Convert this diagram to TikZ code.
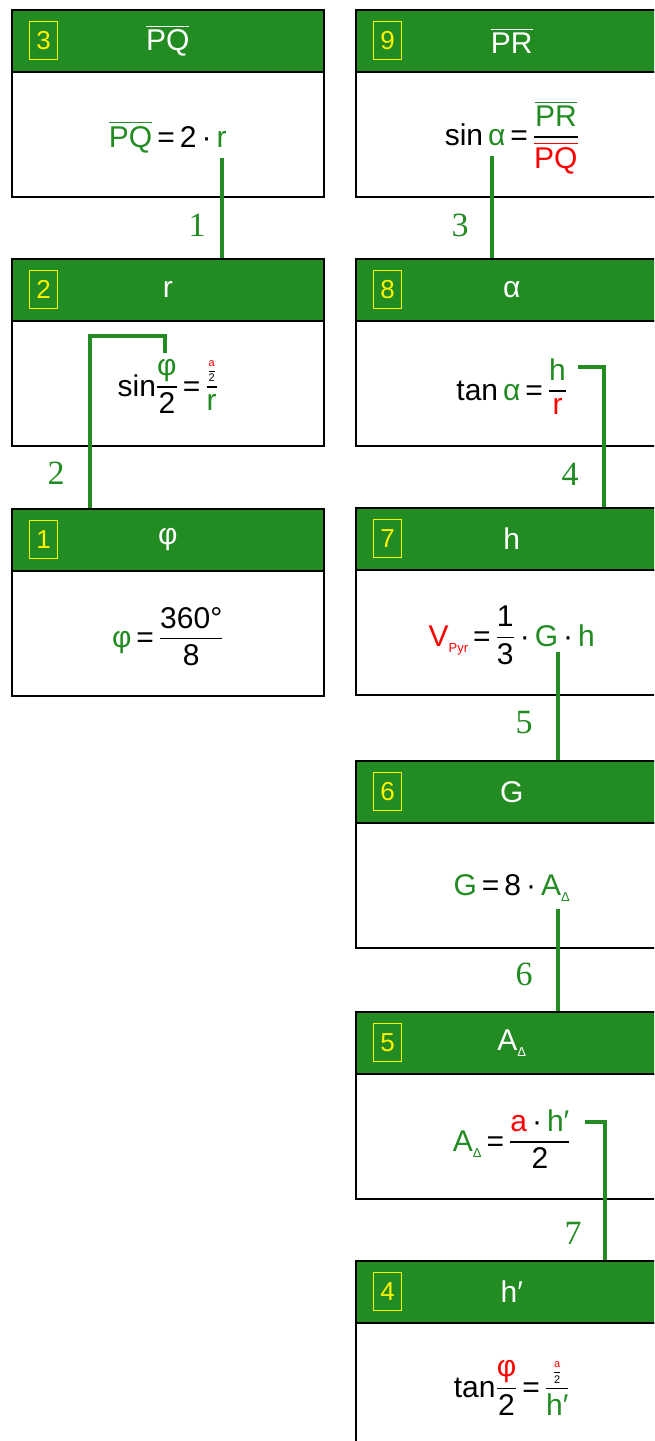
\documentclass[tikz,border=0pt]{standalone}
\usepackage{amsmath}
\usepackage{fontspec}
\setmainfont{Liberation Sans}
\newfontfamily\serifnum{Liberation Serif}
\definecolor{fg}{HTML}{228B22}
\newcommand\g[1]{\textcolor{fg}{#1}}
\newcommand\rd[1]{\textcolor{red}{#1}}
\newcommand\ov[1]{$\overline{\mbox{#1}}$}
\newcommand\fr[2]{\raisebox{3pt}{$\genfrac{}{}{1.6pt}{0}{\mbox{#1}}{\mbox{#2}}$}}
\newcommand\sfr[2]{\raisebox{1pt}{\fontsize{11}{11}\selectfont$\genfrac{}{}{0.8pt}{0}{\mbox{#1}}{\mbox{#2}}$}}
\newcommand\subs[1]{\raisebox{-6pt}{\fontsize{13}{13}\selectfont #1}}
\newcommand\ap{′}
\tikzset{
 hdr/.style={draw=black, line width=1.5pt, fill=fg, minimum width=312pt, minimum height=62pt, inner sep=0pt, anchor=north west},
 bdy/.style={draw=black, line width=1.5pt, fill=white, minimum width=312pt, minimum height=125pt, inner sep=0pt, anchor=north west},
 numbox/.style={draw=yellow, line width=1pt, text=yellow, inner sep=0pt, font=\fontsize{26}{26}\selectfont, anchor=west, minimum width=28pt, minimum height=38pt},
 ttl/.style={text=white, font=\fontsize{30}{30}\selectfont},
 frm/.style={font=\fontsize{30}{36}\selectfont},
 link/.style={draw=fg, line width=4.5pt},
 lbl/.style={text=fg, font=\serifnum\fontsize{34}{34}\selectfont},
}
\newcommand\mkbox[6]{%
 \node[bdy] (#1b) at (#2,#3+62) {};
 \node[hdr] (#1h) at (#2,#3) {};
 \node[numbox] (#1n) at ([xshift=18pt]#1h.west) {#4};
 \node[ttl] (#1t) at (#1h.center) {#5};
 \node[frm] (#1f) at ([yshift=-3pt]#1b.center) {#6};
}
\begin{document}
\begin{tikzpicture}[x=1pt,y=-1pt]
\useasboundingbox (0,0) rectangle (654,1441);
\clip (0,0) rectangle (654,1441);
\fill[white] (0,0) rectangle (654,1441);
% left column
\mkbox{b3}{11}{9}{3}{\ov{PQ}}{{\color{fg}\ov{PQ}}\,=\,2\,·\,\g{r}}
\mkbox{b2}{11}{258}{2}{r}{sin\fr{\g{φ}}{2}\,=\,\fr{\sfr{\rd{a}}{2}}{\g{r}}}
\mkbox{b1}{11}{508}{1}{φ}{\g{φ}\,=\,\fr{360°}{8}}
% right column
\mkbox{b9}{355}{9}{9}{\ov{PR}}{sin\,\g{α}\,=\,\fr{\color{fg}\ov{PR}}{\color{red}\ov{PQ}}}
\mkbox{b8}{355}{258}{8}{α}{tan\,\g{α}\,=\,\fr{\g{h}}{\rd{r}}}
\mkbox{b7}{355}{507}{7}{h}{\rd{V}\subs{\rd{Pyr}}\,=\,\fr{1}{3}\,·\,\g{G}\,·\,\g{h}}
\mkbox{b6}{355}{760}{6}{G}{\g{G}\,=\,8\,·\,\g{A}\subs{\g{Δ}}}
\mkbox{b5}{355}{1011}{5}{A\subs{Δ}}{\g{A}\subs{\g{Δ}}\,=\,\fr{\rd{a}\,·\,\g{h\ap}}{2}}
\mkbox{b4}{355}{1260}{4}{h\ap}{tan\fr{\rd{φ}}{2}\,=\,\fr{\sfr{\rd{a}}{2}}{\g{h\ap}}}
% connectors
\coordinate (s1) at (222,158);
\draw[link] (s1) -- (s1 |- b2h.north);
\coordinate (s2) at (165,353);
\coordinate (k2) at (90,336);
\draw[link] (s2) |- (k2) -- (k2 |- b1h.north);
\coordinate (s3) at (492,156);
\draw[link] (s3) -- (s3 |- b8h.north);
\coordinate (s4) at (578,367);
\coordinate (k4) at (604,367);
\draw[link] (s4) -- (k4) -- (k4 |- b7h.north);
\coordinate (s5) at (558,652);
\draw[link] (s5) -- (s5 |- b6h.north);
\coordinate (s6) at (558,909);
\draw[link] (s6) -- (s6 |- b5h.north);
\coordinate (s7) at (585,1122);
\coordinate (k7) at (605,1122);
\draw[link] (s7) -- (k7) -- (k7 |- b4h.north);
% labels
\node[lbl] (l1) at (197,225) {1};
\node[lbl] (l2) at (56,473) {2};
\node[lbl] (l3) at (460,225) {3};
\node[lbl] (l4) at (570,474) {4};
\node[lbl] (l5) at (524,723) {5};
\node[lbl] (l6) at (524,974) {6};
\node[lbl] (l7) at (573,1233) {7};
\end{tikzpicture}
\end{document}
